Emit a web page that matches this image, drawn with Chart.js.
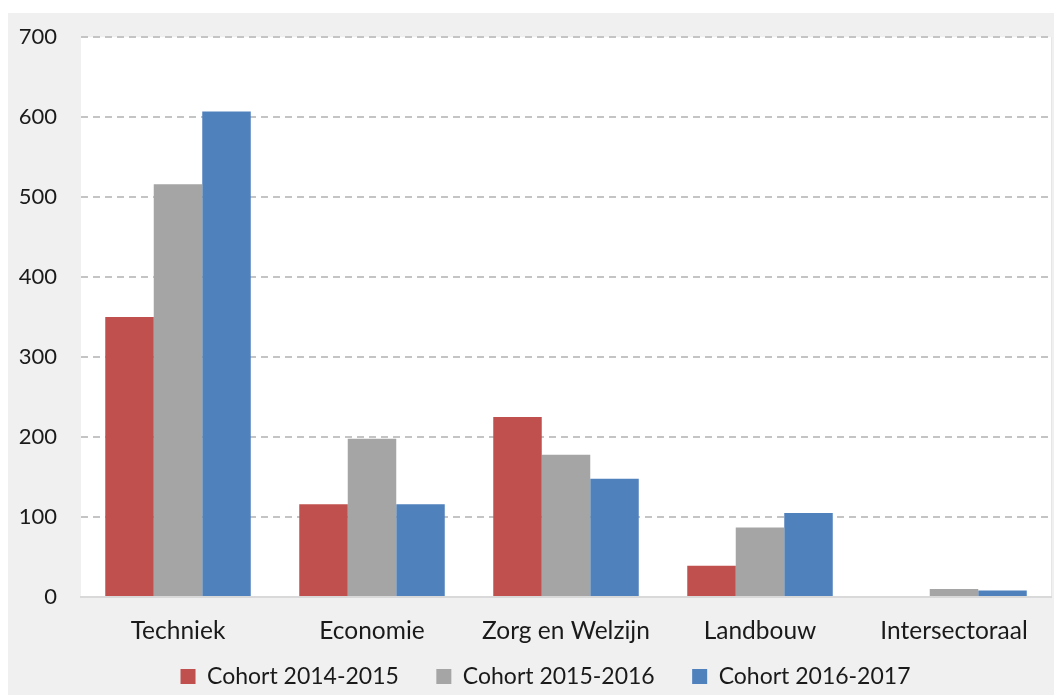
<!DOCTYPE html>
<html lang="nl">
<head>
  <meta charset="UTF-8">
  <title>Cohorten per sector</title>
  <style>
    html, body { margin: 0; padding: 0; background: #fff; }
    #wrap { width: 1054px; height: 695px; }
  </style>
  <script src="https://cdn.jsdelivr.net/npm/chart.js"></script>
</head>
<body>
  <div id="wrap"><canvas id="grafiek"></canvas></div>

  <script>
    // data
    const sectoren = ['Techniek', 'Economie', 'Zorg en Welzijn', 'Landbouw', 'Intersectoraal'];
    const cohort1415 = [350, 116, 225, 39, 0];
    const cohort1516 = [516, 198, 178, 87, 10];
    const cohort1617 = [607, 116, 148, 105, 8];
    const yTicks = [0, 100, 200, 300, 400, 500, 600, 700];

    const FONT = 'Lato, "Open Sans", sans-serif';

    // grijze achtergrond met wit plotvlak
    const achtergrond = {
      id: 'achtergrond',
      beforeDraw(chart) {
        const { ctx, width, height, chartArea: a } = chart;
        ctx.save();
        ctx.fillStyle = '#ffffff';
        ctx.fillRect(0, 0, width, height);
        ctx.fillStyle = '#f0f0f0';
        ctx.fillRect(8, 13, width - 8, height - 13);
        ctx.fillStyle = '#ffffff';
        ctx.fillRect(a.left, a.top, a.right - a.left, a.bottom - a.top);
        ctx.strokeStyle = '#e6e6e6';
        ctx.lineWidth = 1;
        ctx.beginPath();
        ctx.moveTo(a.right + 0.5, a.top);
        ctx.lineTo(a.right + 0.5, a.bottom);
        ctx.stroke();
        ctx.restore();
      },
      afterLayout(chart) {
        // labels van de x-as niet afknippen, legenda wat naar rechts
        chart.scales.x.bottom = chart.height;
        chart.legend.left += 16;
        chart.legend.right += 16;
      }
    };

    new Chart(document.getElementById('grafiek'), {
      type: 'bar',
      data: {
        labels: sectoren,
        datasets: [
          { label: 'Cohort 2014-2015', data: cohort1415, backgroundColor: '#c0504d' },
          { label: 'Cohort 2015-2016', data: cohort1516, backgroundColor: '#a5a5a5' },
          { label: 'Cohort 2016-2017', data: cohort1617, backgroundColor: '#4f81bd' }
        ]
      },
      options: {
        responsive: true,
        maintainAspectRatio: false,
        animation: false,
        layout: { padding: { left: 8, right: 3, top: 35, bottom: -3 } },
        datasets: { bar: { categoryPercentage: 0.75, barPercentage: 1 } },
        scales: {
          x: {
            grid: { display: false, drawTicks: false },
            border: { display: true, color: '#d9d9d9', width: 2 },
            ticks: { color: '#1a1a1a', font: { family: FONT, size: 24.5 }, padding: 19 },
            afterFit(scale) { scale.height = 30.5; }
          },
          y: {
            min: 0,
            max: 700,
            afterBuildTicks(scale) { scale.ticks = yTicks.map(v => ({ value: v })); },
            grid: {
              color: ctx => ctx.tick && ctx.tick.value === 0 ? 'rgba(0,0,0,0)' : '#c4c4c4',
              lineWidth: 2,
              drawTicks: false
            },
            border: { display: false, dash: [7, 5] },
            ticks: { color: '#1a1a1a', font: { family: FONT, size: 22 }, padding: 24 },
            afterFit(scale) { scale.width = 73; }
          }
        },
        plugins: {
          legend: {
            position: 'bottom',
            labels: {
              boxWidth: 15,
              boxHeight: 15,
              padding: 37.5,
              color: '#1a1a1a',
              font: { family: FONT, size: 23 }
            }
          },
          tooltip: { enabled: false }
        }
      },
      plugins: [achtergrond]
    });
  </script>
</body>
</html>
